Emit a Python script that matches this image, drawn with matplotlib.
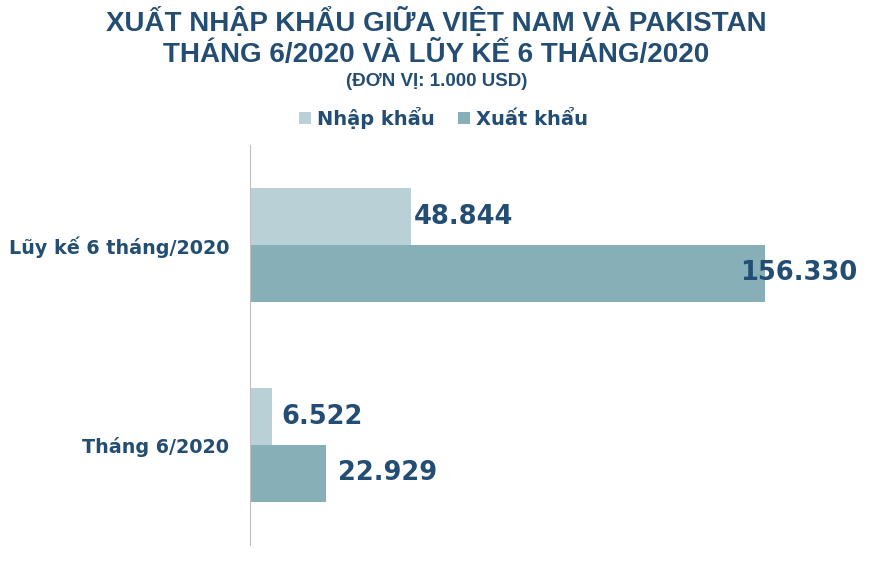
import numpy as np
import matplotlib.pyplot as plt

categories = ['Tháng 6/2020', 'Lũy kế 6 tháng/2020']
nhap_khau = [6522, 48844]
xuat_khau = [22929, 156330]
series_names = ['Nhập khẩu', 'Xuất khẩu']

text_color = '#234D72'
nhap_color = '#B9D1D6'
xuat_color = '#86AFB7'

fig = plt.figure(figsize=(8.73, 5.70), dpi=100)
ax = fig.add_axes([250 / 873, 25 / 570, 600 / 873, 400 / 570])

y = np.arange(len(categories))
h = 0.285
b1 = ax.barh(y + h / 2, nhap_khau, height=h, color=nhap_color, label=series_names[0])
b2 = ax.barh(y - h / 2, xuat_khau, height=h, color=xuat_color, label=series_names[1])

ax.set_ylim(-0.5, 1.5)
ax.set_xlim(0, 182000)
ax.set_yticks(y)
ax.set_yticklabels(categories, fontsize=13.8, color=text_color, fontweight='semibold')
ax.tick_params(axis='y', length=0, pad=15)
ax.set_xticks([])
for s in ['top', 'right', 'bottom']:
    ax.spines[s].set_visible(False)
ax.spines['left'].set_color('#BFBFBF')

def fmt(v):
    return f'{v:,}'.replace(',', '.')

# label offsets in points (nhap, xuat) per category
offsets = [(7, 9), (2, -18)]
for i in range(len(categories)):
    for j, (bars, vals) in enumerate([(b1, nhap_khau), (b2, xuat_khau)]):
        bar, v = bars[i], vals[i]
        ax.annotate(fmt(v), (v, bar.get_y() + bar.get_height() / 2),
                    xytext=(offsets[i][j], 0), textcoords='offset points',
                    ha='left', va='center', fontsize=18.5, fontweight='bold',
                    color=text_color)

title_font = ['Liberation Sans', 'DejaVu Sans']
fig.text(0.5, 1 - 22 / 570, 'XUẤT NHẬP KHẨU GIỮA VIỆT NAM VÀ PAKISTAN',
         ha='center', va='center', fontsize=20, fontweight='bold',
         color=text_color, family=title_font)
fig.text(0.5, 1 - 55 / 570, 'THÁNG 6/2020 VÀ LŨY KẾ 6 THÁNG/2020',
         ha='center', va='center', fontsize=20, fontweight='bold',
         color=text_color, family=title_font)
fig.text(0.5, 1 - 82 / 570, '(ĐƠN VỊ: 1.000 USD)',
         ha='center', va='center', fontsize=13.5, fontweight='bold',
         color=text_color, family=title_font)

leg = fig.legend(handles=[b1, b2], loc='center', bbox_to_anchor=(0.508, 1 - 118 / 570),
                 ncol=2, frameon=False, handlelength=0.6, handleheight=0.6,
                 handletextpad=0.3, columnspacing=1.2,
                 prop={'size': 14, 'weight': 'semibold'})
for t in leg.get_texts():
    t.set_color(text_color)

fig.savefig('out.png', dpi=100)
